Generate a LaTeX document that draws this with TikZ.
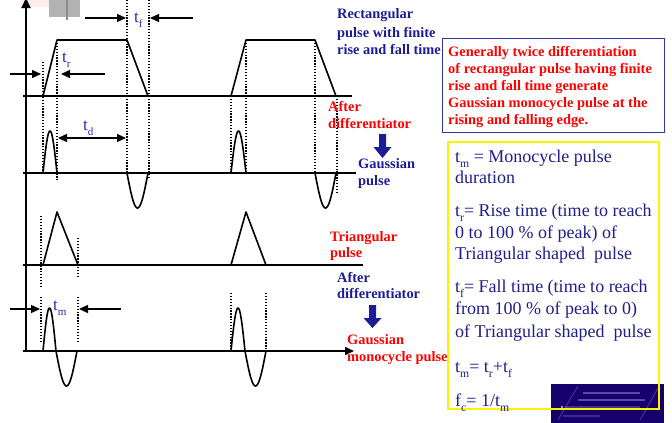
\documentclass[tikz,border=0pt]{standalone}
\usepackage{fontspec}
\usepackage{graphicx}
\setmainfont{Liberation Serif}
\usetikzlibrary{arrows.meta}
\definecolor{dblue}{RGB}{28,28,150}
\definecolor{ytext}{RGB}{30,30,140}
\definecolor{lblue}{RGB}{40,40,185}
\definecolor{navy}{RGB}{22,0,107}
\definecolor{boxblue}{RGB}{50,50,170}
\newcommand{\lsub}[1]{\raisebox{-0.3em}{\scalebox{0.65}{#1}}}
\begin{document}
\begin{tikzpicture}[x=1pt,y=-1pt,
  wave/.style={line width=1.6pt, line join=round},
  baseln/.style={line width=1.6pt},
  dots/.style={line width=1.5pt, dash pattern=on 1.3pt off 1.6pt},
  tip/.style={-{Triangle[length=9pt,width=8pt]}, line width=1.4pt},
  dtip/.style={{Triangle[length=9pt,width=8pt]}-{Triangle[length=9pt,width=8pt]}, line width=1.4pt},
  blab/.style={font=\fontsize{14.4}{17}\selectfont\bfseries, text=dblue, inner sep=0pt, anchor=base west},
  rlab/.style={font=\fontsize{14.4}{17}\selectfont\bfseries, text=red, inner sep=0pt, anchor=base west},
  ylab/.style={font=\fontsize{18}{21}\selectfont, text=ytext, inner sep=0pt, anchor=base west},
  tlab/.style={font=\fontsize{17}{18}\selectfont, text=lblue, inner sep=0pt, anchor=base west},
  bigarrow/.style={fill=dblue, draw=none}
]
\useasboundingbox (0,0) rectangle (672,423);

% artifacts top left
\fill[red!7] (22,0) rectangle (60,7);
\fill[black!30] (49,0) rectangle (80,17);
\draw[black!45, line width=2pt] (67,0) -- (67,20);

% axis
\coordinate (yb) at (26,351);
\coordinate (yt) at (26,-2);
\draw[line width=1.8pt, -{Triangle[length=10pt,width=9pt]}] (yb) -- (yt);

% baselines
\coordinate (b1a) at (23,96);  \coordinate (b1b) at (352,96);
\coordinate (b2a) at (23,173); \coordinate (b2b) at (356,173);
\coordinate (b3a) at (23,265); \coordinate (b3b) at (363,265);
\coordinate (b4a) at (23,351); \coordinate (b4b) at (354,351);
\draw[baseln] (b1a) -- (b1b);
\draw[baseln] (b2a) -- (b2b);
\draw[baseln] (b3a) -- (b3b);
\draw[baseln, -{Triangle[length=9pt,width=8pt]}] (b4a) -- (b4b);

% row 1 rectangular pulses
\draw[wave] (43,96) -- (57,40) -- (127,40) -- (148,96);
\draw[wave] (231,96) -- (246,40) -- (315,40) -- (336,96);

% row 2 gaussian pulses
\draw[wave] plot[domain=0:180, samples=30] ({43+14*\x/180},{173-42*sin(\x)});
\draw[wave] plot[domain=0:180, samples=30] ({127+21*\x/180},{173+35*sin(\x)});
\draw[wave] plot[domain=0:180, samples=30] ({231+15*\x/180},{173-42*sin(\x)});
\draw[wave] plot[domain=0:180, samples=30] ({315+21*\x/180},{173+35*sin(\x)});

% row 3 triangles
\draw[wave] (43,265) -- (57,212) -- (78,265);
\draw[wave] (231,265) -- (246,212) -- (266,265);

% row 4 monocycles
\draw[wave] plot[domain=0:180, samples=30] ({43+13*\x/180},{351-43*sin(\x)})
  -- plot[domain=0:180, samples=30] ({56+21*\x/180},{351+35*sin(\x)});
\draw[wave] plot[domain=0:180, samples=30] ({231+14*\x/180},{351-43*sin(\x)})
  -- plot[domain=0:180, samples=30] ({245+21*\x/180},{351+35*sin(\x)});

% dotted guide lines
\draw[dots] (43,62) -- (43,173);
\draw[dots] (57,40) -- (57,180);
\draw[dots] (127,0) -- (127,174);
\draw[dots] (149,0) -- (149,177);
\draw[dots] (231,96) -- (231,173);
\draw[dots] (246,40) -- (246,173);
\draw[dots] (315,40) -- (315,174);
\draw[dots] (337,96) -- (337,193);
\draw[dots] (41,216) -- (41,287);
\draw[dots] (78,238) -- (78,276);
\draw[dots] (41,297) -- (41,341);
\draw[dots] (78,297) -- (78,341);
\draw[dots] (231,293) -- (231,351);
\draw[dots] (266,293) -- (266,351);

% time arrows
\coordinate (tfa1) at (85,18);  \coordinate (tfa2) at (126,18);
\coordinate (tfb1) at (193,18); \coordinate (tfb2) at (150,18);
\draw[tip] (tfa1) -- (tfa2);
\draw[tip] (tfb1) -- (tfb2);
\coordinate (tra1) at (10,74);  \coordinate (tra2) at (41,74);
\coordinate (trb1) at (105,74); \coordinate (trb2) at (61,74);
\draw[tip] (tra1) -- (tra2);
\draw[tip] (trb1) -- (trb2);
\coordinate (td1) at (58,138); \coordinate (td2) at (126,138);
\draw[dtip] (td1) -- (td2);
\coordinate (tma1) at (10,309);  \coordinate (tma2) at (40,309);
\coordinate (tmb1) at (121,309); \coordinate (tmb2) at (79,309);
\draw[tip] (tma1) -- (tma2);
\draw[tip] (tmb1) -- (tmb2);

\node[tlab] (ltf) at (134,22) {t\lsub{f}};
\node[tlab] (ltr) at (62,62) {t\lsub{r}};
\node[tlab] (ltd) at (83,130) {t\lsub{d}};
\node[tlab] (ltm) at (53,310) {t\lsub{m}};

% side labels
\node[blab] (r1) at (337,19) {Rectangular};
\node[blab] (r2) at (337,37) {pulse with finite};
\node[blab] (r3) at (337,54) {rise and fall time};

\node[rlab] (ad1) at (328,111) {After};
\node[rlab] (ad2) at (328,128) {differentiator};
\node[blab] (gp1) at (358,168) {Gaussian};
\node[blab] (gp2) at (358,185) {pulse};
\node[rlab] (tp1) at (330,241) {Triangular};
\node[rlab] (tp2) at (330,257) {pulse};
\node[blab] (ae1) at (337,282) {After};
\node[blab] (ae2) at (337,298) {differentiator};
\node[rlab] (gm1) at (347,344) {Gaussian};
\node[rlab] (gm2) at (347,361) {monocycle pulse};

% big down arrows
\fill[bigarrow] (379,134) -- (386,134) -- (386,147) -- (391.5,147) -- (382.5,158) -- (373.5,147) -- (379,147) -- cycle;
\fill[bigarrow] (369,305) -- (376,305) -- (376,318) -- (381.5,318) -- (372.5,328) -- (363.5,318) -- (369,318) -- cycle;

% red-text box
\draw[boxblue, line width=1pt] (442,38) rectangle (664,132);
\node[rlab] (g1) at (448,56) {Generally twice differentiation};
\node[rlab] (g2) at (448,73) {of rectangular pulse having finite};
\node[rlab] (g3) at (448,90) {rise and fall time generate};
\node[rlab] (g4) at (448,107) {Gaussian monocycle pulse at the};
\node[rlab] (g5) at (448,124) {rising and falling edge.};

% navy logo image
\fill[navy] (551,384) rectangle (664,423);
\draw[blue!35!white, opacity=0.45, line width=1.5pt] (583,393) -- (640,393);
\draw[blue!35!white, opacity=0.45, line width=1.5pt] (578,400) -- (645,400);
\draw[blue!35!white, opacity=0.3, line width=1.5pt] (565,407) -- (640,407);
\draw[blue!35!white, opacity=0.25, line width=1.5pt] (563,416) -- (600,416);
\draw[blue!35!white, opacity=0.3, line width=1pt] (558,420) -- (578,386);
\draw[blue!35!white, opacity=0.3, line width=1pt] (640,420) -- (658,388);
\fill[white, opacity=0.8] (562,407) circle (1.2pt);

% yellow explanation box
\draw[yellow, line width=1.3pt] (448,142) rectangle (659,409);
\node[ylab] (y1) at (455,162) {t\lsub{m} = Monocycle pulse};
\node[ylab] (y2) at (455,183) {duration};
\node[ylab] (y3) at (455,216) {t\lsub{r}= Rise time (time to reach};
\node[ylab] (y4) at (455,238) {0 to 100 \% of peak) of};
\node[ylab] (y5) at (455,259) {Triangular shaped\ \ pulse};
\node[ylab] (y6) at (455,292) {t\lsub{f}= Fall time (time to reach};
\node[ylab] (y7) at (455,314) {from 100 \% of peak to 0)};
\node[ylab] (y8) at (455,337) {of Triangular shaped\ \ pulse};
\node[ylab] (y9) at (455,372) {t\lsub{m}= t\lsub{r}+t\lsub{f}};
\node[ylab] (y10) at (455,406) {f\lsub{c}= 1/t\lsub{m}};
\end{tikzpicture}
\end{document}
